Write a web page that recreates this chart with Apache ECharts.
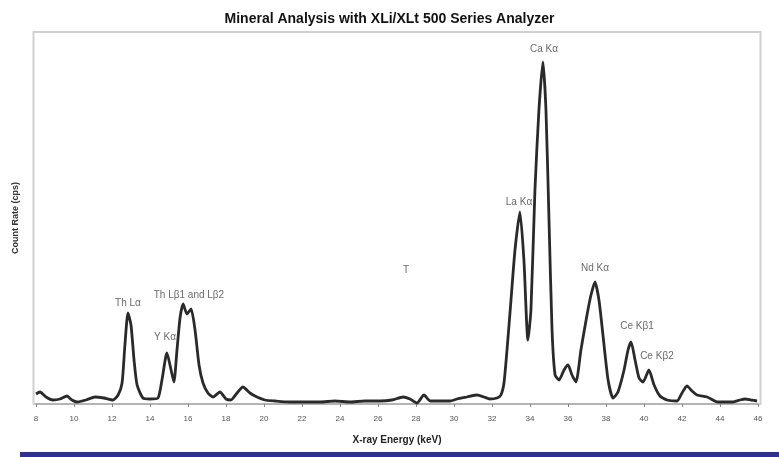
<!DOCTYPE html>
<html><head><meta charset="utf-8">
<script src="https://cdn.jsdelivr.net/npm/echarts@6/dist/echarts.min.js"></script>
<style>html,body{margin:0;padding:0;background:#fff}#c{width:779px;height:457px}</style>
</head><body><div id="c"></div>
<script>
// Spectrum: energy (keV) and count rate (arbitrary cps units)
var energy = [8.0,8.21,8.53,8.89,9.26,9.63,9.89,10.16,10.63,11.1,11.58,12.05,12.32,12.53,12.68,12.84,13.0,13.16,13.32,13.63,14.0,14.42,14.63,14.89,15.11,15.26,15.42,15.58,15.74,15.95,16.16,16.37,16.58,16.79,17.05,17.32,17.68,18.0,18.26,18.58,18.89,19.26,19.63,20.05,20.58,21.37,22.16,22.95,23.74,24.53,25.32,26.1,26.74,27.32,27.68,28.05,28.42,28.74,29.26,29.79,30.16,30.68,31.21,31.58,31.89,32.26,32.47,32.63,32.79,33.0,33.21,33.47,33.68,33.89,34.05,34.26,34.47,34.68,34.84,35.0,35.16,35.32,35.53,35.79,36.0,36.21,36.42,36.68,37.0,37.21,37.42,37.63,37.84,38.11,38.37,38.63,38.95,39.16,39.32,39.53,39.74,39.95,40.26,40.53,40.84,41.21,41.74,42.0,42.26,42.53,42.79,43.32,43.89,44.26,44.68,45.05,45.32,45.63,45.95];
var countRate = [10,12,7,4,5,8,4,2,4,7,6,4,9,21,59,91,79,44,19,6,5,6,24,51,34,22,54,86,100,90,95,74,39,21,11,7,12,5,4,11,17,11,7,4,3,2,2,2,3,2,3,3,4,7,5,1,9,3,3,3,5,7,9,7,5,6,9,21,54,104,154,192,144,64,94,214,294,342,294,184,74,29,24,34,39,29,22,54,89,109,122,104,69,24,6,12,34,54,62,44,26,22,34,19,8,4,3,11,18,13,9,7,2,2,2,4,5,4,3];
// Peak annotations
var peakNames = ["Th L\u03b1","Y K\u03b1","Th L\u03b21 and L\u03b22","La K\u03b1","Ca K\u03b1","Nd K\u03b1","Ce K\u03b21","Ce K\u03b22","T"];
var peakEnergy = [12.84,14.79,16.05,33.42,34.74,37.42,39.63,40.68,27.47];
var peakLabelLevel = [101,67,109,202,355,136,78,48,134];
// Axis ticks
var xMin = 8, xMax = 46, xStep = 2;

var lineData = energy.map(function(e,i){return [e,countRate[i]];});
var labelData = peakNames.map(function(n,i){return {value:[peakEnergy[i],peakLabelLevel[i]],name:n};});

var chart = echarts.init(document.getElementById('c'), null, {renderer:'canvas'});
chart.setOption({
  backgroundColor:'#fff',
  animation:false,
  title:{text:'Mineral Analysis with XLi/XLt 500 Series Analyzer',left:'center',top:7,
    textStyle:{fontFamily:'Liberation Sans, Arial',fontWeight:'bold',fontSize:14,color:'#111'}},
  grid:{left:36,right:21,top:32,bottom:53,show:false},
  xAxis:{type:'value',min:xMin,max:xMax,interval:xStep,
    name:'X-ray Energy (keV)',nameLocation:'middle',nameGap:31,
    nameTextStyle:{fontFamily:'Liberation Sans, Arial',fontWeight:'bold',fontSize:10,color:'#222'},
    axisLine:{lineStyle:{color:'#aaa',width:1.5}},
    axisTick:{show:true,length:3,inside:false,lineStyle:{color:'#888'}},
    axisLabel:{fontFamily:'Liberation Sans, Arial',fontSize:8,color:'#555',margin:11},
    splitLine:{show:false}},
  yAxis:{type:'value',min:0,max:372,
    name:'Count Rate (cps)',nameLocation:'middle',nameGap:16,nameRotate:90,
    nameTextStyle:{fontFamily:'Liberation Sans, Arial',fontWeight:'bold',fontSize:9,color:'#333'},
    axisLine:{show:false},axisTick:{show:false},axisLabel:{show:false},splitLine:{show:false}},
  graphic:[
    {type:'rect',shape:{x:33.5,y:32,width:727,height:372},style:{fill:'none',stroke:'#d0d0d0',lineWidth:2},z:-1},
    {type:'rect',shape:{x:20,y:452,width:759,height:5},style:{fill:'#2e3192'}}
  ],
  series:[
    {type:'line',data:lineData,showSymbol:false,smooth:0.2,
      lineStyle:{color:'#2a2a2a',width:2.8},z:3},
    {type:'scatter',data:labelData,symbolSize:0,
      label:{show:true,position:'inside',formatter:function(p){return p.name;},
        fontFamily:'Liberation Sans, Arial',fontSize:10,color:'#444'},z:4}
  ]
});
</script></body></html>
